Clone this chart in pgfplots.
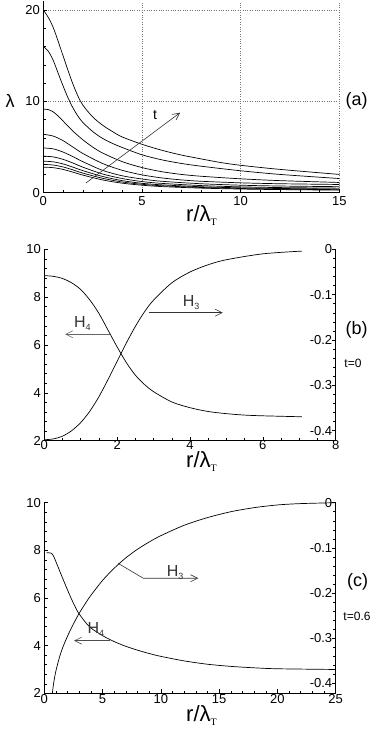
\documentclass[border=0pt]{standalone}
\usepackage{fontspec}
\setmainfont{Liberation Sans}
\newfontfamily\serif{Liberation Serif}
\usepackage{pgfplots}
\pgfplotsset{compat=1.18}
\usetikzlibrary{arrows.meta}

\pgfplotsset{
  base/.style={
    scale only axis, anchor=south west,
    tick align=inside,
    major tick length=4pt, minor tick length=2.5pt,
    tick style={black, line width=0.5pt},
    axis line style={-, line width=0.6pt},
    tick label style={font=\fontsize{13}{15}\selectfont},
    /pgf/number format/assume math mode=true,
  },
  crv/.style={black, line width=0.7pt, smooth, tension=0.5, mark=none},
}
\tikzset{
  arr/.style={line width=0.6pt, -{Straight Barb[length=7pt,width=7pt]}},
  big/.style={font=\fontsize{18}{20}\selectfont, inner sep=0pt},
}
\newcommand{\xlab}{{\fontsize{22}{24}\selectfont r/λ}\raisebox{-4pt}{\fontsize{10}{11}\selectfont\serif T}}
\newcommand{\Hsub}[1]{{\fontsize{16}{18}\selectfont H}\raisebox{-3pt}{\fontsize{9}{10}\selectfont #1}}

\begin{document}
\begin{tikzpicture}
\useasboundingbox (0pt,0pt) rectangle (374pt,734pt);

% ---------- (a) ----------
\begin{axis}[base, at={(43.3pt,541.3pt)}, width=296pt, height=191.8pt,
  xmin=0, xmax=15, ymin=0, ymax=21,
  axis x line*=bottom, axis y line*=left, xtick pos=bottom, ytick pos=left,
  xtick={0,5,10,15}, ytick={0,10,20},
  minor x tick num=4, minor y tick num=4,
  grid=major, major grid style={dotted, black!55, line width=0.45pt}]
\addplot[crv] coordinates {(0,20) (0.25,19.2) (0.5,18.1) (0.75,16.6) (1,15.0) (1.25,13.4) (1.5,11.9) (1.75,10.6) (2,9.6) (2.5,8.3) (3,7.4) (3.5,6.7) (4,6.1) (5,5.3) (6,4.65) (7,4.12) (8,3.7) (9,3.3) (10,3.0) (12,2.55) (15,2.0)};
\addplot[crv] coordinates {(0,16) (0.25,15.5) (0.5,14.5) (0.75,13.1) (1,11.7) (1.25,10.4) (1.5,9.3) (1.75,8.4) (2,7.7) (2.5,6.7) (3,5.95) (3.5,5.4) (4,4.95) (5,4.15) (6,3.6) (7,3.2) (8,2.9) (10,2.4) (12,2.0) (15,1.55)};
\addplot[crv] coordinates {(0,9.15) (0.25,9.1) (0.5,8.85) (0.75,8.4) (1,7.85) (1.5,6.75) (2,5.8) (2.5,5.0) (3,4.35) (4,3.4) (5,2.75) (6,2.3) (7,2.0) (8,1.8) (10,1.52) (12,1.32) (15,1.12)};
\addplot[crv] coordinates {(0,6.4) (0.5,6.2) (1,5.7) (1.5,5.0) (2,4.3) (3,3.2) (4,2.45) (5,1.95) (6,1.62) (7,1.4) (8,1.25) (10,1.08) (12,0.98) (15,0.9)};
\addplot[crv] coordinates {(0,4.9) (0.5,4.8) (1,4.45) (1.5,3.95) (2,3.4) (3,2.45) (4,1.85) (5,1.5) (6,1.25) (8,0.98) (10,0.82) (12,0.73) (15,0.66)};
\addplot[crv] coordinates {(0,4.0) (0.5,3.92) (1,3.65) (1.5,3.25) (2,2.8) (3,2.05) (4,1.55) (5,1.22) (6,1.02) (8,0.78) (10,0.64) (12,0.56) (15,0.5)};
\addplot[crv] coordinates {(0,3.45) (0.5,3.38) (1,3.15) (1.5,2.8) (2,2.42) (3,1.78) (4,1.32) (5,1.03) (6,0.86) (8,0.65) (10,0.53) (12,0.46) (15,0.4)};
\addplot[crv] coordinates {(0,3.1) (0.5,3.03) (1,2.82) (1.5,2.5) (2,2.15) (3,1.58) (4,1.17) (5,0.92) (6,0.76) (8,0.57) (10,0.46) (12,0.39) (15,0.33)};
\addplot[crv] coordinates {(0,2.8) (0.5,2.74) (1,2.55) (1.5,2.25) (2,1.93) (3,1.4) (4,1.04) (5,0.82) (6,0.67) (8,0.5) (10,0.4) (12,0.34) (15,0.28)};
\draw[arr, black!80] (axis cs:2.16,1.06) -- (axis cs:6.93,8.76);
\node[font=\fontsize{14}{16}\selectfont] at (axis cs:5.67,8.5) {t};
\end{axis}

% ---------- (b) ----------
\begin{axis}[base, at={(44.3pt,293.3pt)}, width=291.4pt, height=191.4pt,
  xmin=0, xmax=8, ymin=2, ymax=10,
  axis x line*=bottom, axis y line*=left, xtick pos=bottom, ytick pos=left,
  xtick={0,2,4,6,8}, ytick={2,4,6,8,10},
  minor x tick num=3, minor y tick num=4,
  xticklabel style={yshift=4pt}]
\addplot[crv] coordinates {(0,8.9) (0.25,8.87) (0.5,8.78) (0.75,8.6) (1,8.32) (1.25,7.88) (1.5,7.32) (1.75,6.62) (2,5.92) (2.25,5.27) (2.5,4.74) (2.75,4.35) (3,4.05) (3.5,3.62) (4,3.38) (4.5,3.22) (5,3.13) (5.5,3.07) (6,3.04) (7.07,3.0)};
\draw[arr, black!60] (axis cs:1.8,6.45) -- (axis cs:0.57,6.45);
\draw[arr, black!80] (axis cs:2.88,7.35) -- (axis cs:4.9,7.35);
\node[anchor=base west, inner sep=0pt, black!80] at (axis cs:0.815,6.74) {\Hsub{4}};
\node[anchor=base west, inner sep=0pt, black!80] at (axis cs:3.8,7.6) {\Hsub{3}};
\end{axis}
\begin{axis}[base, at={(44.3pt,293.3pt)}, width=291.4pt, height=191.4pt,
  xmin=0, xmax=8, ymin=-0.422, ymax=0,
  axis x line=none, axis y line*=right, ytick pos=right, yticklabel pos=right,
  ytick={-0.4,-0.3,-0.2,-0.1,0}, minor y tick num=4,
  yticklabel style={anchor=east},
  /pgf/number format/.cd, fixed, precision=1]
\addplot[crv] coordinates {(0,-0.42) (0.25,-0.418) (0.5,-0.412) (0.75,-0.4) (1,-0.382) (1.25,-0.357) (1.5,-0.325) (1.75,-0.287) (2,-0.247) (2.25,-0.207) (2.5,-0.17) (2.75,-0.138) (3,-0.112) (3.5,-0.074) (4,-0.05) (4.5,-0.034) (5,-0.023) (6,-0.01) (7.07,-0.004)};
\end{axis}

% ---------- (c) ----------
\begin{axis}[base, at={(44.3pt,40.7pt)}, width=291.4pt, height=190.6pt,
  xmin=0, xmax=25, ymin=2, ymax=10,
  axis x line*=bottom, axis y line*=left, xtick pos=bottom, ytick pos=left,
  xtick={0,5,10,15,20,25}, ytick={2,4,6,8,10},
  minor x tick num=4, minor y tick num=4,
  xticklabel style={yshift=2pt}]
\addplot[crv] coordinates {(0.2,7.9) (0.6,7.88) (0.8,7.75) (1,7.52) (1.35,7.1) (1.7,6.68) (2.2,6.1) (2.5,5.78) (2.9,5.4) (3.5,5.0) (4,4.74) (5,4.42) (6,4.17) (7,3.97) (8,3.81) (9,3.67) (10,3.55) (12,3.36) (14,3.22) (16,3.13) (18,3.07) (20,3.03) (25,3.0)};
\draw[arr, black!70] (axis cs:5.64,4.21) -- (axis cs:2.55,4.21);
\draw[arr, black!80] (axis cs:6.35,7.45) -- (axis cs:8.49,6.83) -- (axis cs:13.21,6.83);
\node[anchor=base west, inner sep=0pt, black!80] at (axis cs:3.69,4.49) {\Hsub{4}};
\node[anchor=base west, inner sep=0pt, black!80] at (axis cs:10.5,6.92) {\Hsub{3}};
\end{axis}
\begin{axis}[base, at={(44.3pt,40.7pt)}, width=291.4pt, height=190.6pt,
  xmin=0, xmax=25, ymin=-0.422, ymax=0,
  axis x line=none, axis y line*=right, ytick pos=right, yticklabel pos=right,
  ytick={-0.4,-0.3,-0.2,-0.1,0}, minor y tick num=4,
  yticklabel style={anchor=east},
  /pgf/number format/.cd, fixed, precision=1]
\addplot[crv] coordinates {(0.69,-0.422) (0.8,-0.4) (1,-0.372) (1.35,-0.338) (1.7,-0.313) (2.2,-0.284) (2.9,-0.249) (3.5,-0.224) (4,-0.205) (5,-0.172) (6,-0.145) (7,-0.122) (8,-0.103) (9,-0.087) (10,-0.073) (12,-0.05) (14,-0.033) (16,-0.02) (18,-0.011) (20,-0.005) (22,-0.002) (25,0)};
\end{axis}

% ---------- labels ----------
\node[big] at (10pt,633pt) {λ};
\node[big] at (356.7pt,633pt) {(a)};
\node[big] at (356.7pt,404pt) {(b)};
\node[big] at (357.5pt,152pt) {(c)};
\node[font=\fontsize{12}{14}\selectfont, inner sep=0pt] at (353pt,371pt) {t=0};
\node[font=\fontsize{12}{14}\selectfont, inner sep=0pt] at (357pt,117.3pt) {t=0.6};
\node[anchor=base west, inner sep=0pt] at (186pt,512.3pt) {\xlab};
\node[anchor=base west, inner sep=0pt] at (186pt,266pt) {\xlab};
\node[anchor=base west, inner sep=0pt] at (186pt,12.3pt) {\xlab};
\end{tikzpicture}
\end{document}
